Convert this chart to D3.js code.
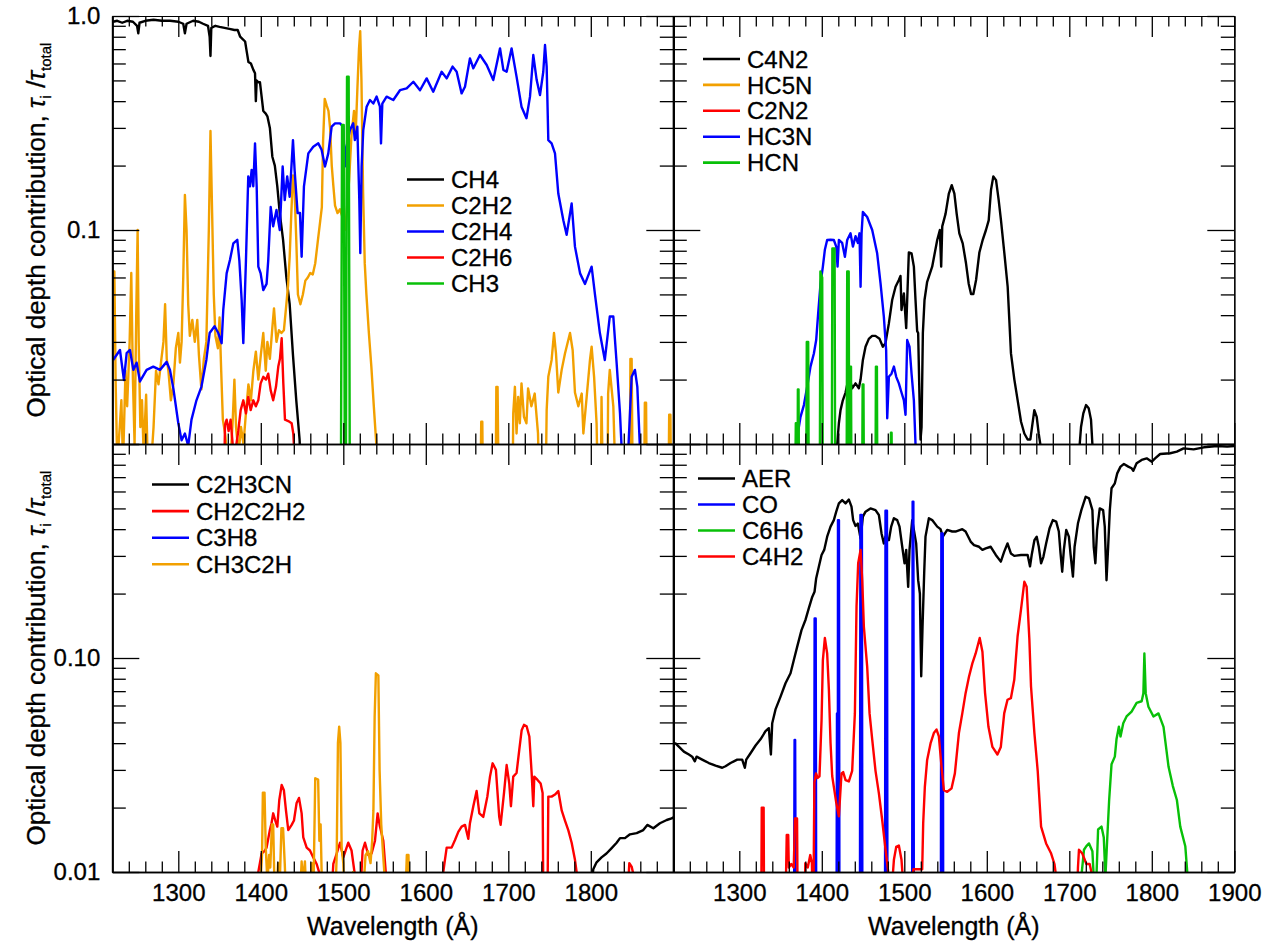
<!DOCTYPE html>
<html><head><meta charset="utf-8">
<script src="https://cdn.jsdelivr.net/npm/d3@7"></script>
<style>
html,body{margin:0;padding:0;background:#fff;}
svg{display:block;}
</style></head><body>
<svg id="chart" width="1272" height="943"></svg>
<script>
// ---------------- DATA (wavelength Å, tau_i/tau_total) ----------------
const xDomain = [1220, 1900];
const yDomain = [0.01, 1];
const xMajorTicks = [1300, 1400, 1500, 1600, 1700, 1800, 1900];
const xTickLabelsLeft = ["1300", "1400", "1500", "1600", "1700", "1800", ""];
const xTickLabelsRight = ["1300", "1400", "1500", "1600", "1700", "1800", "1900"];
const xMinorTicks = [1240,1260,1280,1320,1340,1360,1380,1420,1440,1460,1480,1520,1540,1560,1580,1620,1640,1660,1680,1720,1740,1760,1780,1820,1840,1860,1880];
const yMajorTicks = [0.01, 0.1, 1];
const yMinorTicks = [0.02,0.03,0.04,0.05,0.06,0.07,0.08,0.09,0.2,0.3,0.4,0.5,0.6,0.7,0.8,0.9];
const yTicksTopLeft = [1, 0.1];
const yLabelsTopLeft = ["1.0", "0.1"];
const yTicksBottomLeft = [0.1, 0.01];
const yLabelsBottomLeft = ["0.10", "0.01"];
const xTitle = "Wavelength (Å)";

// Top-left panel
const namesTL = ["CH4", "C2H2", "C2H4", "C2H6", "CH3"];
const ch4 = [[1221,0.94],[1226,0.95],[1232,0.93],[1238,0.95],[1245,0.94],[1250,0.9],[1251.5,0.83],[1253,0.93],[1260,0.95],[1270,0.96],[1280,0.95],[1290,0.95],[1300,0.94],[1306,0.92],[1308,0.83],[1310,0.92],[1318,0.95],[1325,0.94],[1330,0.92],[1336,0.9],[1338,0.8],[1339,0.65],[1340,0.88],[1345,0.9],[1350,0.89],[1356,0.88],[1362,0.87],[1368,0.86],[1372,0.86],[1375,0.8],[1378,0.78],[1381,0.76],[1383,0.68],[1385,0.61],[1388,0.6],[1391,0.56],[1393,0.54],[1394,0.4],[1395,0.5],[1397,0.49],[1399,0.49],[1401,0.42],[1403,0.36],[1406,0.35],[1408,0.34],[1411,0.3],[1414,0.22],[1417,0.2],[1420,0.16],[1423,0.12],[1427,0.09],[1431,0.06],[1435,0.045],[1439,0.026],[1443,0.016],[1447,0.0105],[1449,0.007]];
const c2h2 = [[1221,0.064],[1222.5,0.064],[1224,0.02],[1226,0.008],[1229,0.012],[1231,0.016],[1233,0.008],[1236,0.022],[1238,0.015],[1241,0.03],[1243,0.063],[1245,0.02],[1247,0.01],[1249,0.04],[1250.7,0.1],[1252,0.03],[1254,0.012],[1256,0.016],[1258,0.009],[1261,0.017],[1263,0.008],[1267,0.008],[1270,0.012],[1273,0.022],[1276,0.019],[1279,0.024],[1282,0.03],[1284,0.045],[1286,0.025],[1288,0.022],[1291,0.016],[1294,0.019],[1297,0.028],[1300,0.033],[1302,0.024],[1304,0.03],[1306,0.06],[1308,0.146],[1310,0.1],[1312,0.045],[1314,0.032],[1317,0.038],[1320,0.03],[1323,0.038],[1325,0.026],[1328,0.018],[1331,0.025],[1334,0.03],[1337,0.1],[1339,0.29],[1341,0.12],[1343,0.05],[1345,0.032],[1348,0.028],[1350,0.039],[1352,0.022],[1354,0.013],[1357,0.011],[1360,0.008],[1363,0.008],[1366,0.013],[1368,0.02],[1370,0.012],[1373,0.009],[1376,0.012],[1379,0.01],[1382,0.014],[1385,0.019],[1388,0.016],[1391,0.022],[1394,0.027],[1397,0.02],[1400,0.026],[1403,0.033],[1406,0.022],[1408,0.03],[1411,0.025],[1414,0.035],[1416,0.043],[1419,0.03],[1422,0.034],[1425,0.033],[1428,0.034],[1431,0.045],[1433,0.055],[1435,0.075],[1437,0.12],[1439,0.18],[1441,0.15],[1443,0.09],[1445,0.05],[1448,0.045],[1451,0.05],[1454,0.058],[1457,0.06],[1460,0.063],[1463,0.062],[1466,0.07],[1469,0.088],[1472,0.11],[1474,0.128],[1475.5,0.26],[1477.5,0.41],[1480,0.38],[1482,0.36],[1484,0.3],[1486,0.2],[1488,0.16],[1490,0.13],[1493,0.12],[1496,0.125],[1499,0.115],[1502,0.1],[1504,0.12],[1507,0.17],[1510,0.28],[1513,0.36],[1515,0.28],[1517,0.45],[1519,0.7],[1520.5,0.85],[1522,0.5],[1524,0.15],[1526,0.07],[1528,0.05],[1531,0.033],[1534,0.023],[1537,0.015],[1540,0.01],[1542,0.005],[1666,0.005],[1667.2,0.0127],[1668.5,0.0127],[1669.5,0.005],[1684.5,0.005],[1685.5,0.0185],[1687,0.0185],[1688.5,0.005],[1705,0.005],[1706,0.0139],[1708,0.0185],[1710,0.0112],[1712,0.0166],[1714,0.0125],[1716,0.0192],[1719,0.0134],[1722,0.0125],[1724,0.0182],[1728,0.015],[1732,0.0172],[1736,0.0112],[1738,0.005],[1745,0.005],[1746.5,0.0144],[1748.5,0.0206],[1752.5,0.0247],[1755.4,0.033],[1757.8,0.0265],[1760.6,0.0174],[1764.7,0.0222],[1768.7,0.0265],[1774.8,0.033],[1778,0.0275],[1780.8,0.0174],[1784.9,0.015],[1789,0.0172],[1791,0.0112],[1795,0.0166],[1799,0.0247],[1801,0.0285],[1804,0.0206],[1807,0.0125],[1809,0.005],[1812,0.005],[1813,0.0166],[1815,0.005],[1820,0.005],[1821,0.0172],[1823,0.0222],[1827.3,0.015],[1831,0.005],[1847,0.005],[1848,0.025],[1849.5,0.025],[1851,0.005],[1864.5,0.005],[1865.5,0.0156],[1867,0.0156],[1868,0.005],[1894,0.005],[1895,0.0137],[1896.5,0.0137],[1897.5,0.005]];
const c2h4 = [[1221,0.0247],[1229.3,0.0275],[1234.1,0.0199],[1237.4,0.0266],[1241.4,0.0275],[1245.5,0.0222],[1249.5,0.024],[1253.5,0.0196],[1261.6,0.0222],[1269.7,0.023],[1277.8,0.0222],[1285.9,0.0242],[1289.9,0.0222],[1294,0.0182],[1300,0.0125],[1304,0.0104],[1308,0.0112],[1312,0.0098],[1316,0.013],[1322,0.016],[1328,0.0185],[1334,0.0247],[1338,0.033],[1344,0.0355],[1348.5,0.033],[1352.5,0.0296],[1354.5,0.0423],[1358.6,0.0627],[1362.6,0.0724],[1366.7,0.0866],[1371.5,0.09],[1374,0.072],[1376.8,0.047],[1378.8,0.0296],[1382,0.072],[1384.8,0.178],[1386.9,0.16],[1388.9,0.191],[1390.9,0.16],[1393,0.254],[1395,0.16],[1397,0.0674],[1399.8,0.0627],[1403,0.0524],[1407,0.056],[1409,0.072],[1412,0.128],[1415,0.104],[1419,0.124],[1423,0.1],[1426.5,0.198],[1429,0.138],[1432,0.178],[1435,0.143],[1439,0.263],[1441,0.19],[1444.6,0.12],[1447.5,0.12],[1449.5,0.075],[1452.3,0.16],[1457.6,0.228],[1463.6,0.245],[1469.7,0.254],[1473.7,0.237],[1477.8,0.198],[1481.8,0.228],[1485.9,0.304],[1490,0.315],[1496,0.315],[1500,0.304],[1502,0.198],[1504,0.245],[1508,0.293],[1512,0.315],[1514,0.263],[1517,0.304],[1519.4,0.138],[1520.6,0.078],[1522.2,0.198],[1524.2,0.293],[1528.3,0.377],[1532.3,0.405],[1536.4,0.39],[1540.4,0.42],[1544.4,0.377],[1545.7,0.254],[1547.3,0.39],[1552.5,0.42],[1560.6,0.405],[1568.7,0.45],[1576.8,0.459],[1584.9,0.493],[1593,0.45],[1601,0.511],[1609,0.443],[1619.2,0.549],[1625.3,0.511],[1632.5,0.58],[1637.4,0.549],[1643.4,0.435],[1647.5,0.467],[1653.5,0.634],[1657.6,0.57],[1665.7,0.657],[1673.8,0.59],[1681.8,0.502],[1690,0.706],[1694,0.56],[1698,0.549],[1704,0.706],[1710,0.521],[1716,0.377],[1722,0.333],[1726.3,0.42],[1730.3,0.657],[1734.4,0.502],[1738.4,0.427],[1742.4,0.549],[1744.5,0.732],[1746.5,0.58],[1748.5,0.263],[1752.5,0.254],[1756.6,0.228],[1760.6,0.148],[1766.7,0.111],[1770.7,0.095],[1776.8,0.133],[1780.8,0.0836],[1787,0.0627],[1793,0.056],[1801,0.0674],[1805,0.0502],[1811,0.033],[1817,0.0247],[1823,0.0394],[1827.3,0.0394],[1831.3,0.0239],[1835.4,0.0139],[1837.4,0.0095],[1845.5,0.0095],[1849.5,0.0206],[1853.5,0.0222],[1856.4,0.0185],[1859.6,0.0095]];
const c2h6 = [[1355,0.005],[1356.6,0.0123],[1358.6,0.013],[1361,0.0115],[1363.4,0.013],[1365.9,0.01],[1368.7,0.009],[1372.7,0.0115],[1375.6,0.0144],[1378.8,0.016],[1382,0.0139],[1384.8,0.0166],[1387.7,0.0144],[1390.9,0.016],[1394,0.015],[1397,0.016],[1399.8,0.0192],[1403,0.0206],[1406.3,0.02],[1409,0.0213],[1412,0.0178],[1415,0.016],[1418.4,0.0185],[1421.2,0.023],[1423.2,0.025],[1425.3,0.0312],[1427.3,0.0192],[1429.3,0.013],[1433.3,0.0128],[1437.4,0.0125],[1439.4,0.0112],[1441.4,0.008]];
const ch3 = [[1497,0.005],[1498.5,0.31],[1500.5,0.31],[1502,0.005],[1503,0.005],[1504.5,0.52],[1506.5,0.52],[1508,0.005]];

// Top-right panel
const namesTR = ["C4N2", "HC5N", "C2N2", "HC3N", "HCN"];
const c4n2 = [[1417,0.007],[1418.7,0.01],[1420.7,0.0125],[1422.7,0.0144],[1425.5,0.016],[1428.8,0.0174],[1432.8,0.0206],[1434.8,0.0195],[1436.8,0.0182],[1440.9,0.0192],[1444.9,0.0182],[1447,0.02],[1449.8,0.0247],[1453,0.0285],[1457,0.031],[1461,0.032],[1465,0.032],[1470,0.031],[1474,0.0285],[1477.2,0.0296],[1481.3,0.0366],[1485.3,0.0471],[1489.4,0.0543],[1493.4,0.0584],[1495.4,0.061],[1496.6,0.0423],[1499.5,0.0505],[1502.3,0.0348],[1503.5,0.0471],[1505.5,0.0785],[1508.8,0.0778],[1511.6,0.0674],[1513.6,0.0471],[1515.6,0.0337],[1516.8,0.033],[1518.5,0.016],[1519.7,0.0105],[1520.9,0.012],[1522.5,0.033],[1524.5,0.0471],[1527.7,0.0573],[1533.8,0.0674],[1539.9,0.0898],[1543.1,0.1],[1544.7,0.0674],[1546,0.104],[1550,0.119],[1554,0.148],[1557.5,0.162],[1560.7,0.148],[1563.5,0.119],[1566.7,0.0965],[1570.8,0.0866],[1574.8,0.0699],[1578,0.0563],[1580.9,0.0502],[1583.7,0.0502],[1587,0.0584],[1591,0.0785],[1595,0.0898],[1599,0.1],[1602.3,0.111],[1605.1,0.154],[1607.9,0.178],[1611.2,0.171],[1614.4,0.138],[1617.2,0.111],[1621.3,0.0778],[1625.3,0.0543],[1627.3,0.038],[1629.3,0.0265],[1633.4,0.02],[1637.4,0.016],[1641.5,0.0127],[1645.5,0.0112],[1649.5,0.0105],[1652.8,0.0105],[1654.8,0.012],[1657.6,0.0144],[1660.5,0.0134],[1662.9,0.0112],[1665.7,0.0095],[1667,0.007],[1711,0.007],[1712.2,0.0095],[1714.2,0.012],[1717,0.0139],[1720.3,0.0152],[1723.5,0.0147],[1726.3,0.013],[1728.3,0.0095],[1729.5,0.007]];
const hc5n = [];
const c2n2 = [];
const hc3n = [[1369,0.007],[1371.4,0.0115],[1374.2,0.0134],[1378.3,0.0152],[1382.3,0.0185],[1386.3,0.023],[1390.4,0.0265],[1393.2,0.0306],[1395.6,0.0408],[1398.5,0.0563],[1401.3,0.0674],[1403.7,0.0808],[1406.5,0.0898],[1410.6,0.09],[1414.6,0.0898],[1417.5,0.0836],[1419.1,0.0674],[1420.7,0.0898],[1424.7,0.087],[1428,0.075],[1430.8,0.0898],[1434.8,0.0965],[1437.7,0.0836],[1440.9,0.0935],[1443.7,0.087],[1445.7,0.0965],[1447,0.0543],[1448.2,0.0965],[1449.8,0.1215],[1455,0.115],[1461.1,0.1],[1467.1,0.0778],[1471.2,0.0563],[1475.2,0.0394],[1478,0.0275],[1479.3,0.0132],[1481.3,0.0206],[1484.5,0.0213],[1487.4,0.023],[1490.2,0.0206],[1493.4,0.0192],[1496.6,0.0174],[1499.5,0.016],[1501.5,0.0137],[1503.5,0.0306],[1506.3,0.0285],[1508.8,0.0213],[1511.6,0.016],[1513.6,0.01],[1515.6,0.007]];
const hcn = [[1367.5,0.005],[1368.5,0.0125],[1369.3,0.0125],[1370,0.005],[1370.5,0.005],[1371,0.018],[1371.8,0.018],[1372.5,0.005],[1381,0.005],[1381.8,0.03],[1383.5,0.03],[1384.3,0.005],[1397.5,0.005],[1398.3,0.064],[1400.5,0.06],[1401.3,0.005],[1412,0.005],[1412.8,0.082],[1415.5,0.082],[1416.3,0.005],[1430,0.005],[1430.8,0.064],[1432.6,0.064],[1433.3,0.005],[1434,0.005],[1434.6,0.023],[1435.4,0.023],[1436,0.005],[1448.8,0.005],[1449.5,0.019],[1450.5,0.019],[1451.2,0.005],[1465,0.005],[1465.6,0.023],[1466.8,0.023],[1467.4,0.005],[1483.2,0.005],[1483.8,0.0113],[1484.6,0.0113],[1485.2,0.005]];

// Bottom-left panel
const namesBL = ["C2H3CN", "CH2C2H2", "C3H8", "CH3C2H"];
const c2h3cn = [[1800,0.008],[1803,0.0103],[1807,0.0111],[1813,0.0117],[1819,0.0122],[1825,0.0129],[1831.3,0.0137],[1835.4,0.0144],[1841.4,0.0144],[1847.5,0.015],[1855.6,0.0152],[1863.6,0.0157],[1868.5,0.0166],[1875.8,0.016],[1883.8,0.0169],[1892,0.0175],[1898,0.0178],[1900,0.018]];
const ch2c2h2 = [[1396,0.008],[1397,0.01],[1401,0.0122],[1405,0.0126],[1407,0.013],[1411,0.0157],[1413,0.0169],[1415,0.0188],[1417.6,0.0174],[1420,0.0163],[1422.4,0.0217],[1425.3,0.0255],[1428,0.0241],[1430.5,0.0194],[1433.3,0.0157],[1437.4,0.0166],[1440.2,0.0174],[1443.4,0.021],[1446.3,0.0222],[1449.5,0.0188],[1451.5,0.0145],[1455.6,0.013],[1459.6,0.0126],[1463.6,0.0117],[1467.7,0.0109],[1471.7,0.0097],[1473,0.007],[1485,0.007],[1487.9,0.0109],[1492,0.0122],[1496,0.0137],[1500,0.0117],[1504,0.013],[1506,0.0137],[1510,0.0126],[1514,0.0097],[1515,0.007],[1520,0.007],[1523.4,0.0126],[1526.3,0.0137],[1530.3,0.012],[1534.3,0.0122],[1538.4,0.014],[1541.6,0.0188],[1544.4,0.0163],[1548.5,0.014],[1551.7,0.0097],[1553,0.007],[1620,0.007],[1621.2,0.01],[1623.2,0.0114],[1625.3,0.013],[1631.3,0.013],[1635.4,0.0141],[1639.4,0.0154],[1643.4,0.0163],[1647.5,0.0166],[1651.5,0.0143],[1653.5,0.0169],[1657.6,0.0203],[1661.6,0.0239],[1664.9,0.0188],[1669.7,0.0181],[1674.6,0.0225],[1677.8,0.0279],[1681,0.0322],[1685,0.03],[1689,0.0181],[1690.7,0.0166],[1694.8,0.0234],[1698,0.0316],[1701.2,0.0259],[1703.2,0.0203],[1706,0.0279],[1710,0.029],[1713.3,0.0372],[1716.2,0.046],[1719,0.0487],[1722.2,0.048],[1725.5,0.043],[1728.3,0.029],[1730.3,0.0203],[1731.5,0.0279],[1735.2,0.027],[1739.2,0.0259],[1741.6,0.0234],[1742.5,0.007],[1747.5,0.007],[1748.5,0.0225],[1752.5,0.0225],[1756.6,0.023],[1760.6,0.0239],[1764.7,0.0194],[1768.7,0.0174],[1772.7,0.0157],[1776.8,0.0137],[1780.8,0.0114],[1783.6,0.0095],[1785,0.007],[1844,0.007],[1846.7,0.011],[1849.5,0.0106],[1852.3,0.0095],[1854,0.007]];
const c3h8 = [];
const ch3c2h = [[1398,0.007],[1401.5,0.012],[1402.5,0.0235],[1404.5,0.0235],[1406,0.013],[1408,0.009],[1410,0.012],[1411.5,0.0105],[1413.5,0.0167],[1415,0.0167],[1416.5,0.009],[1419,0.008],[1421,0.011],[1423,0.009],[1425,0.016],[1427,0.016],[1429,0.011],[1431,0.007],[1447,0.007],[1449.5,0.0112],[1451,0.009],[1453.5,0.0112],[1455,0.008],[1460,0.008],[1462,0.011],[1464,0.009],[1466,0.0274],[1469.5,0.027],[1471,0.014],[1472.5,0.0167],[1474,0.009],[1477,0.007],[1490,0.007],[1492,0.012],[1493.5,0.04],[1495,0.0478],[1496.5,0.04],[1498,0.013],[1500,0.011],[1502,0.007],[1510,0.007],[1512,0.01],[1514,0.007],[1524,0.008],[1527,0.012],[1530,0.0125],[1533,0.011],[1535,0.014],[1536.5,0.0194],[1538,0.053],[1539.5,0.0848],[1542.5,0.083],[1544,0.03],[1546,0.0167],[1548,0.0125],[1550.5,0.009],[1552,0.007],[1575,0.007],[1577,0.012],[1579,0.012],[1580,0.007]];

// Bottom-right panel
const namesBR = ["AER", "CO", "C6H6", "C4H2"];
const aer = [[1220,0.0399],[1222.7,0.0399],[1226.7,0.0385],[1232.8,0.0365],[1238.9,0.0354],[1242.9,0.0346],[1246.1,0.0329],[1248.2,0.0346],[1255,0.0335],[1263.1,0.0323],[1271.2,0.0314],[1279.3,0.0307],[1283.3,0.0312],[1289.4,0.0323],[1297.5,0.0335],[1303.5,0.0335],[1306.7,0.0307],[1308.4,0.0335],[1313.6,0.0359],[1319.7,0.039],[1325.7,0.0417],[1331.8,0.0455],[1335.8,0.047],[1338.3,0.0354],[1339.9,0.0496],[1343.9,0.0575],[1350,0.066],[1356,0.0762],[1362.1,0.0848],[1366.1,0.0978],[1370.2,0.113],[1375.4,0.135],[1380.3,0.151],[1384.3,0.171],[1388.4,0.193],[1391.2,0.204],[1393.2,0.236],[1396.4,0.267],[1399.7,0.303],[1402.9,0.32],[1406.5,0.369],[1410.6,0.411],[1414.6,0.441],[1417.5,0.483],[1420.7,0.528],[1424.7,0.547],[1428.8,0.528],[1432.8,0.55],[1436,0.51],[1438,0.441],[1440.9,0.414],[1443.7,0.425],[1447,0.362],[1449.8,0.458],[1453,0.483],[1459,0.5],[1465.1,0.491],[1469.2,0.466],[1472.4,0.382],[1475.2,0.343],[1477.2,0.369],[1481.3,0.355],[1484.1,0.411],[1487.4,0.45],[1491.4,0.441],[1494.2,0.411],[1497.5,0.331],[1500.3,0.277],[1502.3,0.32],[1504.7,0.215],[1506.3,0.32],[1509.6,0.441],[1511.6,0.397],[1514.4,0.343],[1516.8,0.231],[1518.9,0.2],[1520.5,0.0822],[1522.1,0.14],[1524.1,0.249],[1525.7,0.369],[1529.8,0.45],[1533.8,0.441],[1539.9,0.411],[1543.9,0.4],[1546.7,0.369],[1552,0.397],[1558.1,0.39],[1562.1,0.39],[1570.3,0.4],[1574.3,0.39],[1580.4,0.35],[1584.5,0.337],[1590.6,0.331],[1594.7,0.32],[1598.7,0.325],[1604.8,0.331],[1610.9,0.303],[1617,0.282],[1621.1,0.314],[1625.1,0.343],[1629.2,0.308],[1633.3,0.3],[1641.4,0.303],[1649.5,0.303],[1652.4,0.268],[1654.4,0.303],[1657.7,0.355],[1660.5,0.369],[1663,0.331],[1665.8,0.277],[1668.6,0.297],[1671.9,0.343],[1676,0.403],[1680,0.441],[1684.1,0.434],[1687.3,0.39],[1689.4,0.308],[1691.4,0.253],[1693.4,0.32],[1696.3,0.397],[1699.5,0.369],[1701.6,0.303],[1704.4,0.24],[1706.4,0.331],[1710.5,0.426],[1714.6,0.491],[1719.9,0.567],[1723.9,0.557],[1728,0.491],[1729.6,0.331],[1731.6,0.277],[1733.7,0.397],[1736.9,0.5],[1741,0.491],[1743,0.411],[1745.1,0.231],[1747.1,0.331],[1749.1,0.491],[1751.2,0.621],[1755.2,0.655],[1758.1,0.729],[1762.1,0.784],[1766.2,0.806],[1771.5,0.784],[1775.5,0.77],[1777.6,0.75],[1781.6,0.812],[1787.7,0.842],[1793.8,0.857],[1800,0.827],[1804,0.857],[1810.1,0.898],[1822.3,0.905],[1830.4,0.921],[1838.5,0.954],[1850.7,0.944],[1863,0.965],[1879.2,0.979],[1891.4,0.972],[1900,0.979]];
const co = [[1366.3,0.005],[1367,0.0414],[1367.7,0.0414],[1368.4,0.005],[1390.6,0.005],[1391.3,0.153],[1392.6,0.153],[1393.3,0.005],[1417.8,0.005],[1418.4,0.055],[1419,0.055],[1419.4,0.005],[1419.6,0.44],[1420.8,0.44],[1421.4,0.005],[1446.2,0.005],[1446.8,0.466],[1448.6,0.466],[1449.2,0.005],[1476.6,0.005],[1477.2,0.488],[1479,0.488],[1479.6,0.005],[1509.5,0.005],[1510.1,0.538],[1511,0.538],[1511.6,0.005],[1544.3,0.005],[1544.9,0.382],[1546.6,0.382],[1547.2,0.005]];
const c6h6 = [[1714,0.007],[1714.6,0.0095],[1717.8,0.0127],[1720.7,0.0132],[1723.9,0.0136],[1728,0.0125],[1729.6,0.0095],[1732.9,0.0095],[1734.9,0.0158],[1739,0.0163],[1741.8,0.0145],[1743.8,0.0095],[1745.9,0.0141],[1748.3,0.0217],[1751.2,0.0319],[1755.2,0.0346],[1757.2,0.0417],[1760.1,0.0477],[1762.1,0.043],[1765.4,0.0495],[1769.4,0.0533],[1775.5,0.0562],[1781.6,0.0617],[1787.7,0.0628],[1789.8,0.0685],[1791,0.105],[1792.6,0.0685],[1795.9,0.0592],[1802,0.0533],[1808.1,0.0551],[1814.2,0.0477],[1820.3,0.031],[1825.5,0.0252],[1830.4,0.0217],[1834.5,0.0163],[1840.6,0.0132],[1843.4,0.0095],[1844.5,0.007]];
const c4h2 = [[1324,0.005],[1326.5,0.005],[1327.2,0.02],[1329.5,0.02],[1330.2,0.005],[1355,0.005],[1356.5,0.009],[1357.5,0.0149],[1359.3,0.0149],[1360,0.0105],[1363,0.0109],[1366,0.0105],[1367.5,0.0178],[1370,0.0178],[1371,0.005],[1379,0.005],[1380,0.011],[1383,0.0105],[1386,0.012],[1388,0.011],[1389.5,0.005],[1391,0.0262],[1393,0.0289],[1395,0.0275],[1397.2,0.028],[1399.7,0.0512],[1401.3,0.0978],[1403.7,0.124],[1406.5,0.105],[1408.6,0.071],[1410.6,0.04],[1412.6,0.0281],[1414.6,0.025],[1417.5,0.0211],[1420.7,0.0182],[1423.9,0.0289],[1425.9,0.0293],[1428.8,0.0269],[1432.8,0.0265],[1436.8,0.0297],[1440.1,0.0551],[1442.1,0.174],[1444.1,0.277],[1447,0.32],[1449,0.231],[1451,0.14],[1455,0.0911],[1457.9,0.0551],[1461.1,0.0417],[1465.1,0.0297],[1469.2,0.0233],[1473.2,0.0175],[1477.3,0.0127],[1480.5,0.01],[1484.5,0.008],[1487.4,0.0114],[1490.2,0.0131],[1493.4,0.0133],[1496.6,0.0114],[1499.5,0.008],[1509,0.008],[1511,0.0103],[1518,0.0103],[1521.7,0.0103],[1522.9,0.0169],[1524.9,0.025],[1527.7,0.0334],[1531.8,0.0399],[1535.8,0.0446],[1539.1,0.0463],[1541.9,0.043],[1545.1,0.0311],[1548,0.0241],[1552,0.0237],[1557.3,0.0246],[1561.3,0.0289],[1566.2,0.0446],[1570.3,0.0551],[1574.3,0.0685],[1578.4,0.0817],[1582.5,0.0944],[1586.5,0.105],[1591.4,0.124],[1594.7,0.107],[1597.9,0.0685],[1602,0.0477],[1606.8,0.0384],[1612.9,0.0354],[1617,0.0384],[1621.1,0.0551],[1625.1,0.0638],[1629.2,0.0649],[1633.3,0.0791],[1637.3,0.126],[1641.4,0.168],[1645.5,0.227],[1648.3,0.215],[1651.6,0.122],[1653.6,0.0736],[1657.7,0.0446],[1661.7,0.0297],[1665.8,0.0163],[1671.9,0.0136],[1678,0.0122],[1682,0.0109],[1684.1,0.0095],[1685,0.007],[1709,0.007],[1710.5,0.0105],[1711.7,0.0127],[1715.8,0.0122],[1720.7,0.0109],[1724.7,0.0109],[1728,0.0095],[1729,0.007]];

// ---------------- STYLE / LAYOUT ----------------
const BLACK = "#000000", ORANGE = "#f2a000", BLUE = "#0000ff", RED = "#ff0000", GREEN = "#08c008";
const FONT = "'Liberation Sans', Arial, Helvetica, sans-serif";
const L = 112.3, M = 673.3, R = 1234.3, T = 16, C = 444, B = 872;

const panels = [
  { x0: L, x1: M, y0: T, y1: C, series: [ch4, c2h2, c2h4, c2h6, ch3], colors: [BLACK, ORANGE, BLUE, RED, GREEN], names: namesTL,
    legend: { x: 407, y: 179.5, dy: 26 }, yTicks: yTicksTopLeft, yLabels: yLabelsTopLeft, xLabels: null, yTitle: true },
  { x0: M, x1: R, y0: T, y1: C, series: [c4n2, hc5n, c2n2, hc3n, hcn], colors: [BLACK, ORANGE, RED, BLUE, GREEN], names: namesTR,
    legend: { x: 703, y: 59, dy: 25.9 }, yTicks: null, yLabels: null, xLabels: null, yTitle: false },
  { x0: L, x1: M, y0: C, y1: B, series: [c2h3cn, ch2c2h2, c3h8, ch3c2h], colors: [BLACK, RED, BLUE, ORANGE], names: namesBL,
    legend: { x: 152, y: 484.5, dy: 26.6 }, yTicks: yTicksBottomLeft, yLabels: yLabelsBottomLeft, xLabels: xTickLabelsLeft, yTitle: true },
  { x0: M, x1: R, y0: C, y1: B, series: [aer, co, c6h6, c4h2], colors: [BLACK, BLUE, GREEN, RED], names: namesBR,
    legend: { x: 698, y: 478.5, dy: 26 }, yTicks: null, yLabels: null, xLabels: xTickLabelsRight, yTitle: false }
];

const svg = d3.select("#chart");
svg.append("rect").attr("width", 1272).attr("height", 943).attr("fill", "#fff");
const defs = svg.append("defs");

function styleAxis(g, strokeW) {
  g.attr("font-family", FONT).attr("font-size", 24);
  g.select(".domain").attr("stroke", "#000").attr("stroke-width", strokeW);
  g.selectAll(".tick line").attr("stroke", "#000").attr("stroke-width", 1.3);
  g.selectAll(".tick text").attr("fill", "#000").attr("stroke", "#000").attr("stroke-width", 0.3);
}

panels.forEach((p, i) => {
  const x = d3.scaleLinear().domain(xDomain).range([p.x0, p.x1]);
  const y = d3.scaleLog().domain(yDomain).range([p.y1, p.y0]);

  // data
  const cid = "clip" + i;
  defs.append("clipPath").attr("id", cid).append("rect")
    .attr("x", p.x0).attr("y", p.y0).attr("width", p.x1 - p.x0).attr("height", p.y1 - p.y0);
  const gData = svg.append("g").attr("clip-path", `url(#${cid})`);
  const line = d3.line().x(d => x(d[0])).y(d => y(d[1]));
  p.series.forEach((s, k) => {
    if (!s.length) return;
    gData.append("path").datum(s).attr("d", line).attr("fill", "none")
      .attr("stroke", p.colors[k]).attr("stroke-width", 2.4).attr("stroke-linejoin", "round");
  });

  // axes
  const gAx = svg.append("g");
  const bMaj = d3.axisBottom(x).tickValues(xMajorTicks).tickSize(-21).tickSizeOuter(0).tickPadding(12)
    .tickFormat((d, j) => p.xLabels ? p.xLabels[j] : "");
  styleAxis(gAx.append("g").attr("transform", `translate(0,${p.y1})`).call(bMaj), 1.6);
  styleAxis(gAx.append("g").attr("transform", `translate(0,${p.y1})`)
    .call(d3.axisBottom(x).tickValues(xMinorTicks).tickSize(-10.5).tickSizeOuter(0).tickFormat("")), 1.6);
  styleAxis(gAx.append("g").attr("transform", `translate(0,${p.y0})`)
    .call(d3.axisTop(x).tickValues(xMajorTicks).tickSize(-21).tickSizeOuter(0).tickFormat("")), 1.2);
  styleAxis(gAx.append("g").attr("transform", `translate(0,${p.y0})`)
    .call(d3.axisTop(x).tickValues(xMinorTicks).tickSize(-10.5).tickSizeOuter(0).tickFormat("")), 1.2);
  const lMaj = d3.axisLeft(y).tickValues(yMajorTicks).tickSize(-27).tickSizeOuter(0).tickPadding(12)
    .tickFormat(d => {
      if (!p.yTicks) return "";
      const j = p.yTicks.findIndex(t => Math.abs(t - d) < 1e-9);
      return j >= 0 ? p.yLabels[j] : "";
    });
  styleAxis(gAx.append("g").attr("transform", `translate(${p.x0},0)`).call(lMaj), 1.8);
  styleAxis(gAx.append("g").attr("transform", `translate(${p.x0},0)`)
    .call(d3.axisLeft(y).tickValues(yMinorTicks).tickSize(-13.5).tickSizeOuter(0).tickFormat("")), 1.8);
  const rw = p.x1 > 1000 ? 1.2 : 1.8;
  styleAxis(gAx.append("g").attr("transform", `translate(${p.x1},0)`)
    .call(d3.axisRight(y).tickValues(yMajorTicks).tickSize(-27).tickSizeOuter(0).tickFormat("")), rw);
  styleAxis(gAx.append("g").attr("transform", `translate(${p.x1},0)`)
    .call(d3.axisRight(y).tickValues(yMinorTicks).tickSize(-13.5).tickSizeOuter(0).tickFormat("")), rw);

  // legend
  const gL = svg.append("g").attr("font-family", FONT).attr("font-size", 24);
  p.names.forEach((n, k) => {
    const yy = p.legend.y + k * p.legend.dy;
    gL.append("line").attr("x1", p.legend.x).attr("x2", p.legend.x + 37).attr("y1", yy).attr("y2", yy)
      .attr("stroke", p.colors[k]).attr("stroke-width", 2.6);
    gL.append("text").attr("x", p.legend.x + 44).attr("y", yy).attr("dy", "0.36em")
      .attr("fill", "#000").attr("stroke", "#000").attr("stroke-width", 0.3).text(n);
  });

  if (p.xLabels) {
    svg.append("text").attr("x", (p.x0 + p.x1) / 2).attr("y", 935).attr("text-anchor", "middle")
      .attr("font-family", FONT).attr("font-size", 25).attr("fill", "#000")
      .attr("stroke", "#000").attr("stroke-width", 0.3).text(xTitle);
  }
  if (p.yTitle) {
    const t = svg.append("text").attr("transform", `translate(45,${(p.y0 + p.y1) / 2}) rotate(-90)`)
      .attr("text-anchor", "middle").attr("font-family", FONT).attr("font-size", 26).attr("fill", "#000")
      .attr("stroke", "#000").attr("stroke-width", 0.3);
    t.append("tspan").text("Optical depth contribution, ");
    t.append("tspan").attr("font-style", "italic").text("τ");
    t.append("tspan").attr("font-size", 15).attr("dy", 6).text("i");
    t.append("tspan").attr("dy", -6).text(" /");
    t.append("tspan").attr("font-style", "italic").text("τ");
    t.append("tspan").attr("font-size", 15).attr("dy", 6).text("total");
  }
});
</script></body></html>
